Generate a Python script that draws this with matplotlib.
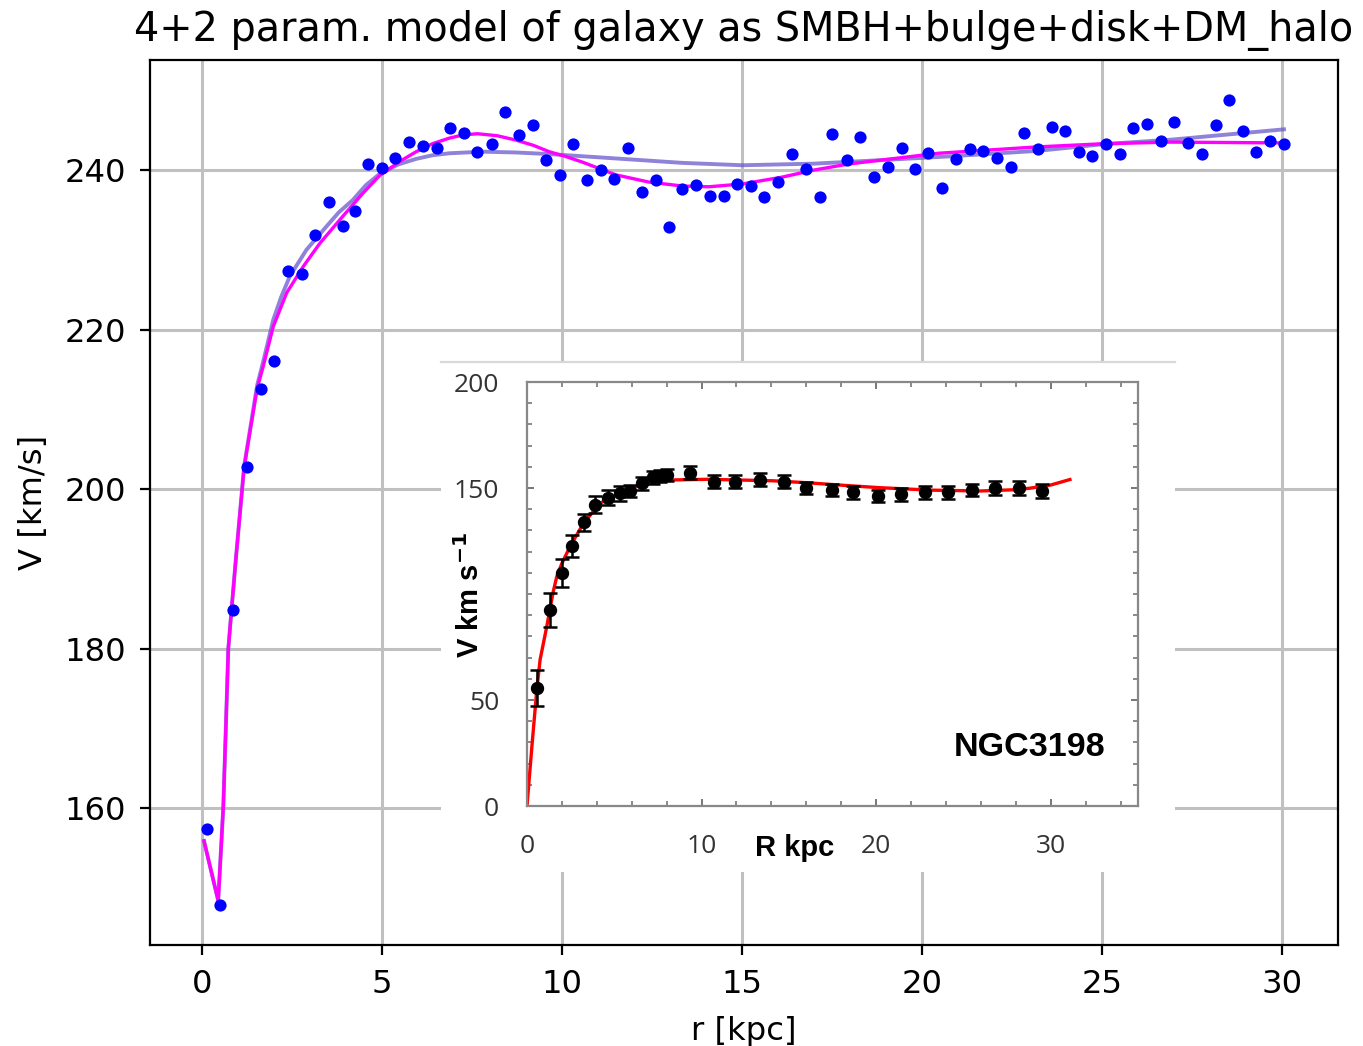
import matplotlib.pyplot as plt
from matplotlib.ticker import MultipleLocator

# measured rotation curve (main panel)
r_obs = [0.13, 0.50, 0.87, 1.24, 1.63, 2.00, 2.39, 2.78, 3.15, 3.53,
         3.91, 4.25, 4.62, 4.99, 5.37, 5.76, 6.13, 6.52, 6.90, 7.27,
         7.65, 8.04, 8.42, 8.79, 9.18, 9.55, 9.94, 10.30, 10.68, 11.07,
         11.44, 11.83, 12.21, 12.60, 12.96, 13.33, 13.72, 14.10, 14.49, 14.86,
         15.24, 15.62, 16.00, 16.38, 16.77, 17.15, 17.51, 17.90, 18.27, 18.66,
         19.04, 19.43, 19.80, 20.17, 20.55, 20.93, 21.32, 21.69, 22.08, 22.46,
         22.83, 23.21, 23.60, 23.97, 24.35, 24.72, 25.12, 25.49, 25.86, 26.24,
         26.63, 27.00, 27.39, 27.77, 28.15, 28.52, 28.91, 29.28, 29.66, 30.05]
v_obs = [157.4, 147.9, 184.8, 202.8, 212.6, 216.0, 227.4, 227.0, 231.9, 236.0,
         233.0, 234.9, 240.7, 240.3, 241.5, 243.5, 243.0, 242.8, 245.3, 244.7,
         242.2, 243.25, 247.3, 244.4, 245.6, 241.25, 239.4, 243.25, 238.75, 240.0,
         238.9, 242.8, 237.2, 238.75, 232.8, 237.6, 238.1, 236.75, 236.75, 238.25,
         238.0, 236.6, 238.5, 242.0, 240.1, 236.6, 244.5, 241.3, 244.1, 239.1,
         240.4, 242.8, 240.1, 242.1, 237.8, 241.4, 242.6, 242.4, 241.5, 240.4,
         244.7, 242.6, 245.4, 244.9, 242.2, 241.75, 243.25, 242.0, 245.3, 245.75,
         243.6, 246.0, 243.4, 242.0, 245.6, 248.75, 244.9, 242.2, 243.7, 243.25]

# 4+2 parameter fit (magenta)
r_fit = [0.055, 0.45, 0.59, 0.665, 0.73, 0.82, 0.94, 1.17, 1.53, 1.70,
         1.98, 2.35, 2.81, 3.27, 3.91, 4.47, 4.93, 5.50, 5.95, 6.40,
         6.87, 7.25, 7.65, 8.20, 8.72, 9.20, 9.64, 10.10, 10.56, 11.49,
         12.40, 13.33, 14.07, 15.00, 16.10, 17.00, 17.95, 18.87, 20.44, 23.20,
         25.05, 26.90, 30.05]
v_fit = [155.9, 148.4, 160.1, 170.6, 180.0, 184.9, 191.25, 202.75, 212.6, 215.4,
         220.4, 224.6, 227.9, 230.8, 234.2, 237.1, 239.3, 241.1, 242.3, 243.3,
         244.0, 244.4, 244.55, 244.3, 243.75, 243.1, 242.3, 241.7, 241.0, 239.4,
         238.5, 238.0, 237.9, 238.25, 239.1, 240.0, 240.75, 241.25, 242.1, 242.9,
         243.3, 243.5, 243.4]

# second fit (slate blue)
r_fit2 = [0.055, 0.45, 0.59, 0.665, 0.73, 0.82, 0.94, 1.17, 1.53, 1.70,
          1.98, 2.20, 2.44, 2.90, 3.45, 3.80, 4.19, 4.55, 4.93, 5.45,
          5.95, 6.40, 6.87, 7.80, 8.72, 9.64, 11.00, 13.33, 15.00, 17.00,
          18.90, 20.70, 23.20, 25.05, 26.90, 30.05]
v_fit2 = [155.9, 148.4, 160.1, 170.6, 180.0, 184.9, 191.25, 202.9, 213.0, 216.0,
          221.25, 224.1, 226.7, 230.0, 232.9, 234.7, 236.25, 238.1, 239.5, 240.7,
          241.4, 241.85, 242.1, 242.3, 242.2, 242.0, 241.6, 240.9, 240.6, 240.8,
          241.25, 241.7, 242.4, 243.25, 243.8, 245.1]

# NGC3198 inset
r_ngc = [0.57, 1.32, 2.0, 2.6, 3.27, 3.9, 4.66, 5.33, 5.9, 6.6,
         7.24, 7.6, 8.0, 9.34, 10.7, 11.9, 13.35, 14.7, 16.0, 17.46,
         18.7, 20.1, 21.4, 22.8, 24.1, 25.5, 26.8, 28.2, 29.5]
v_ngc = [55.7, 92.5, 110, 122.8, 133.8, 142, 145.4, 147.5, 148.6, 152.2,
         155, 155.7, 156.1, 157.2, 153, 153, 154, 153, 150, 149,
         148, 146.2, 147, 148, 148, 149, 150, 150, 148.7]
e_ngc = [8.3, 8, 6.7, 5.2, 4, 4, 3.5, 3.5, 3, 3,
         3, 3, 3, 3, 3, 3, 3, 3, 3, 3,
         3, 3, 3, 3, 3, 3, 3.3, 3.3, 3.3]
r_red = [0, 0.3, 0.56, 0.75, 1.13, 1.5, 1.7, 2.0, 2.46, 3.23,
         4.18, 5.33, 6.48, 7.5, 8.38, 10.3, 12.0, 14.1, 16.0, 17.9,
         20.1, 23.1, 26.0, 28.0, 28.8, 30.0, 31.1]
v_red = [0, 30, 54.7, 69, 84.6, 101, 108, 114.5, 122.3, 133.3,
         142.8, 147.5, 151.4, 153, 153.8, 154.1, 153.8, 153.4, 152.5, 151.4,
         150.2, 149, 148.6, 149.2, 149.9, 151.4, 154]

W, H = 1363, 1046
plt.rcParams['font.size'] = 11.6
fig = plt.figure(figsize=(W / 200, H / 200), dpi=200)

ax = fig.add_axes([150 / W, 1 - 945 / H, (1338 - 150) / W, (945 - 60) / H])
ax.plot(r_fit2, v_fit2, color='slateblue', alpha=0.75, lw=1.4)
ax.plot(r_fit, v_fit, color='magenta', lw=1.2)
ax.plot(r_obs, v_obs, 'o', color='blue', ms=4.4, mew=0)
ax.xaxis.set_major_locator(MultipleLocator(5))
ax.yaxis.set_major_locator(MultipleLocator(20))
ax.tick_params(pad=5)
ax.grid(True, color='#c0c0c0', lw=1.1)
ax.set_axisbelow(True)
ax.set_xlabel('r [kpc]', labelpad=6)
ax.set_ylabel('V [km/s]', labelpad=5.5)
ax.set_title('4+2 param. model of galaxy as SMBH+bulge+disk+DM_halo', fontsize=14.3, pad=7)

# pasted figure background
bg = fig.add_axes([441 / W, 1 - 872 / H, (1175 - 441) / W, (872 - 362) / H])
bg.set_facecolor('white')
bg.set_xticks([])
bg.set_yticks([])
for s in ['left', 'right', 'bottom']:
    bg.spines[s].set_visible(False)
bg.spines['top'].set_color('#d8d8d8')
bg.spines['top'].set_linewidth(0.8)

ins = fig.add_axes([527 / W, 1 - 806 / H, 611 / W, 424 / H])
ins.plot(r_red, v_red, color='red', lw=1.2, zorder=2)
ins.errorbar(r_ngc, v_ngc, yerr=e_ngc, fmt='o', color='black', ms=3.8,
             capsize=2.4, elinewidth=0.9, capthick=0.9, zorder=3)
ins.set_xlim(0, 35)
ins.set_ylim(0, 200)
ins.set_xticks([0, 10, 20, 30])
ins.set_yticks([0, 50, 150, 200])
ins.xaxis.set_minor_locator(MultipleLocator(2))
ins.yaxis.set_minor_locator(MultipleLocator(10))
ins.tick_params(which='both', direction='in', top=True, right=True, color='#777777',
                labelcolor='#333333', labelsize=9.5, labelfontfamily='Open Sans')
ins.tick_params(which='major', length=2.6, width=0.7, pad=10)
ins.tick_params(which='minor', length=1.8, width=0.6)
for s in ins.spines.values():
    s.set_color('#888888')
    s.set_linewidth(0.8)

fig.text(795 / W, 1 - 848 / H, 'R kpc', ha='center', va='center', fontsize=10.5,
         fontweight='bold', family='Liberation Sans')
fig.text(470 / W, 1 - 595 / H, r'V km s$^{\mathbf{-1}}$', ha='center', va='center',
         rotation=90, fontsize=10.5, fontweight='bold', family='Liberation Sans')
fig.text(1030 / W, 1 - 748 / H, 'NGC3198', ha='center', va='center', fontsize=12.3,
         fontweight='bold', family='Liberation Sans')

fig.savefig('out.png', dpi=200)
